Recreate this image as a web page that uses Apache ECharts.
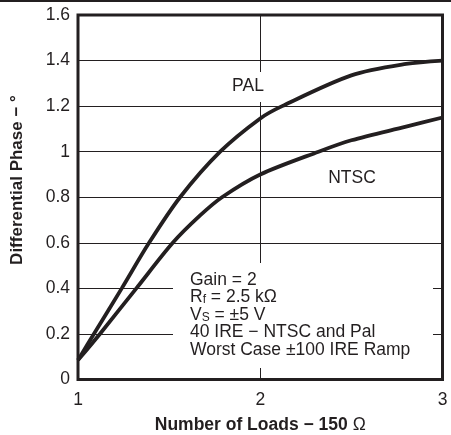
<!DOCTYPE html>
<html>
<head>
<meta charset="utf-8">
<title>Differential Phase vs Number of Loads</title>
<script src="https://cdn.jsdelivr.net/npm/echarts@6/dist/echarts.min.js"></script>
<style>
  html, body { margin: 0; padding: 0; background: #ffffff; }
  #chart { width: 451px; height: 435px; }
</style>
</head>
<body>
<div id="chart"></div>
<script>
// PAL curve (number of loads, differential phase in degrees)
const palLoads = [1.0, 1.087, 1.24, 1.39, 1.56, 1.78, 2.0, 2.12, 2.5, 2.8, 3.0];
const palPhase = [0.085, 0.2, 0.4, 0.6, 0.8, 1.0, 1.146, 1.2, 1.335, 1.385, 1.4];
// NTSC curve
const ntscLoads = [1.0, 1.12, 1.32, 1.52, 1.67, 1.79, 2.0, 2.32, 2.5, 2.8, 3.0];
const ntscPhase = [0.085, 0.2, 0.4, 0.6, 0.72, 0.8, 0.9, 1.0, 1.05, 1.11, 1.15];
// axis ranges
const xMin = 1, xMax = 3, xStep = 1;
const yMin = 0, yMax = 1.6, yStep = 0.2;

const ink = "#231f20";
const font = "'Liberation Sans', Arial, sans-serif";

function pairs(xs, ys) {
  return xs.map((x, i) => [x, ys[i]]);
}

const chart = echarts.init(document.getElementById("chart"));

chart.setOption({
  animation: false,
  grid: {
    left: 78,
    right: 8.5,
    top: 15,
    bottom: 55.5,
    outerBoundsMode: "none",
    show: true,
    borderColor: ink,
    borderWidth: 3
  },
  xAxis: {
    type: "value",
    min: xMin,
    max: xMax,
    interval: xStep,
    name: "{b|Number of Loads − 150 }{o|Ω}",
    nameLocation: "middle",
    nameGap: 37,
    nameTextStyle: {
      rich: {
        b: { fontFamily: font, fontSize: 17.5, fontWeight: "bold", color: ink },
        o: { fontFamily: font, fontSize: 17.5, color: ink }
      }
    },
    axisLine: { show: false },
    axisTick: { show: false },
    axisLabel: { color: ink, fontFamily: font, fontSize: 17.5, margin: 12 },
    splitLine: { lineStyle: { color: ink, width: 1 } }
  },
  yAxis: {
    type: "value",
    min: yMin,
    max: yMax,
    interval: yStep,
    axisLine: { show: false },
    axisTick: { show: false },
    axisLabel: { color: ink, fontFamily: font, fontSize: 17.5, margin: 8 },
    splitLine: { lineStyle: { color: ink, width: 1 } }
  },
  graphic: [
    // page rule at top
    {
      type: "line",
      shape: { x1: 0, y1: 1, x2: 451, y2: 1 },
      style: { stroke: ink, lineWidth: 2 }
    },
    {
      type: "text",
      x: 17,
      y: 180,
      rotation: Math.PI / 2,
      style: {
        text: "Differential Phase − °",
        fill: ink,
        font: "bold 17px " + font,
        align: "center",
        verticalAlign: "middle"
      }
    },
    // white boxes behind labels break the grid lines
    {
      type: "rect",
      z: 1,
      shape: { x: 226, y: 72, width: 44, height: 30 },
      style: { fill: "#ffffff" }
    },
    {
      type: "rect",
      z: 1,
      shape: { x: 173, y: 263, width: 260, height: 105 },
      style: { fill: "#ffffff" }
    },
    {
      type: "text",
      z: 2,
      x: 248,
      y: 86,
      style: {
        text: "PAL",
        fill: ink,
        font: "17.5px " + font,
        align: "center",
        verticalAlign: "middle"
      }
    },
    {
      type: "text",
      z: 2,
      x: 352,
      y: 178,
      style: {
        text: "NTSC",
        fill: ink,
        font: "17.5px " + font,
        align: "center",
        verticalAlign: "middle"
      }
    },
    {
      type: "text",
      z: 2,
      x: 190,
      y: 271,
      style: {
        text: [
          "{t|Gain = 2}",
          "{t|R}{s|f}{t| = 2.5 kΩ}",
          "{t|V}{s|S}{t| = ±5 V}",
          "{t|40 IRE − NTSC and Pal}",
          "{t|Worst Case ±100 IRE Ramp}"
        ].join("\n"),
        fill: ink,
        align: "left",
        verticalAlign: "top",
        rich: {
          t: { fontFamily: font, fontSize: 17.5, lineHeight: 17.5, fill: ink },
          s: { fontFamily: font, fontSize: 12, lineHeight: 12, verticalAlign: "bottom", fill: ink }
        }
      }
    }
  ],
  series: [
    {
      name: "PAL",
      type: "line",
      data: pairs(palLoads, palPhase),
      smooth: 0.3,
      symbol: "none",
      lineStyle: { color: ink, width: 3.8 }
    },
    {
      name: "NTSC",
      type: "line",
      data: pairs(ntscLoads, ntscPhase),
      smooth: 0.3,
      symbol: "none",
      lineStyle: { color: ink, width: 3.8 }
    }
  ]
});
</script>
</body>
</html>
